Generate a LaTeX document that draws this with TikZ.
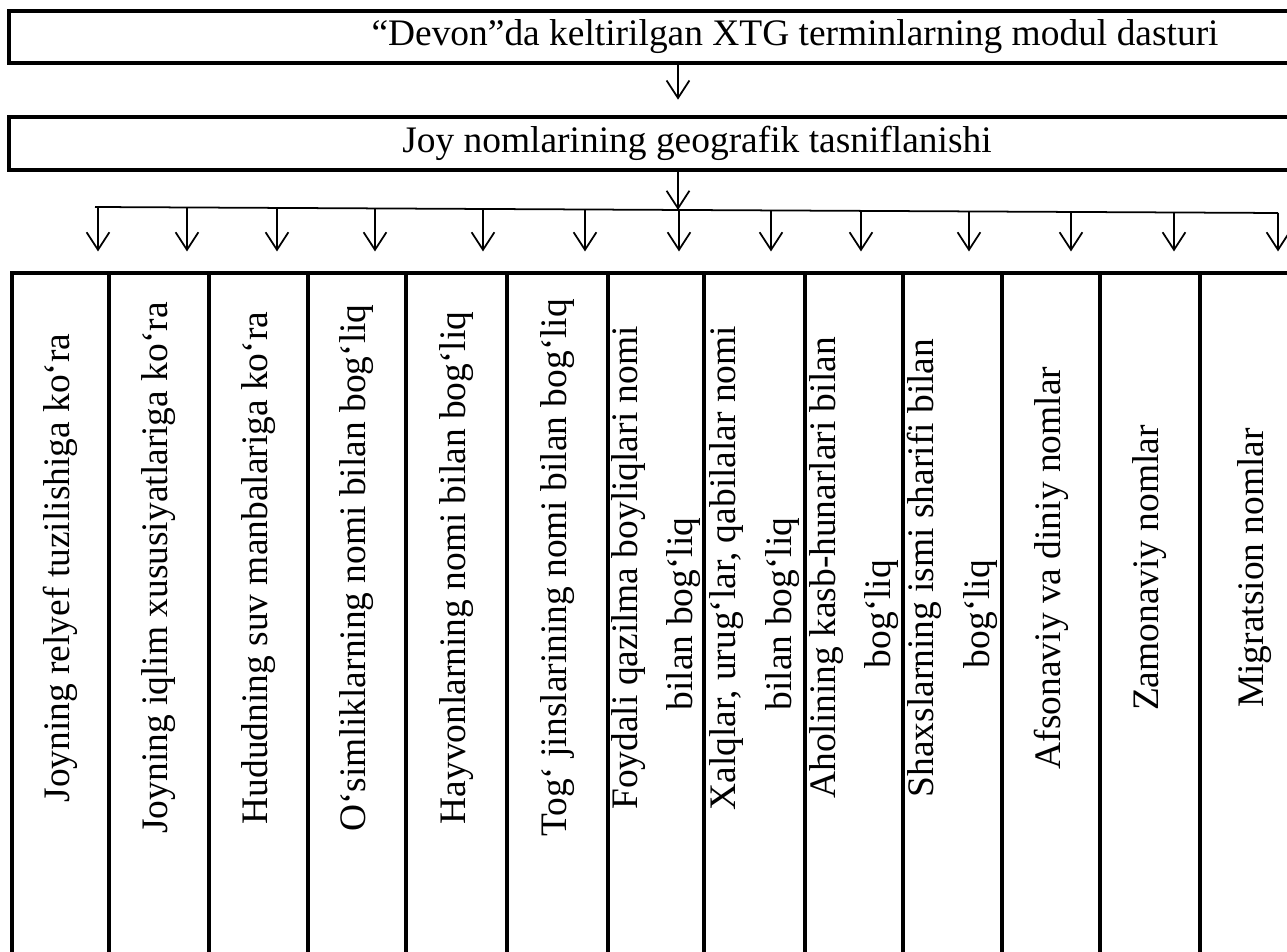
\documentclass[tikz,border=0pt]{standalone}
\usepackage{fontspec}
\setmainfont{Liberation Serif}
\usepackage{tikz}
\usetikzlibrary{positioning,calc,arrows.meta}
\newcommand{\bigtext}{\fontsize{21.3}{31.5}\selectfont}

\begin{document}
\begin{tikzpicture}[x=0.02cm, y=-0.02cm,
  box/.style={draw, line width=1.9pt, inner sep=0pt, font=\bigtext},
  cell/.style={draw, line width=1.9pt, inner sep=0pt, minimum height=18cm},
  arr/.style={line width=1pt, -{Straight Barb[length=10pt, width=13pt, line width=1pt]}},
  lbl/.style={rotate=90, font=\bigtext, align=center, inner sep=0pt}]
\clip (0,0) rectangle (1287,952);
\fill[white] (0,0) rectangle (1287,952);

\node[box, minimum width=31.44cm, minimum height=1.04cm] (dev) at (795,37) {“Devon”da keltirilgan XTG terminlarning modul dasturi};
\node[box, minimum width=27.52cm, minimum height=1.06cm] (geo) at (697,143.5) {Joy nomlarining geografik tasniflanishi};

\coordinate (mid) at (678,0);
\coordinate (hl) at (95,207);
\coordinate (hr) at (1278,213);
\coordinate (lblrow) at (0,568);

\draw[arr] (dev.south -| mid) -- ++(0,35);
\draw[arr] (geo.south -| mid) -- ($(hl)!{(678-95)/1183}!(hr)$);
\draw[line width=1pt] (hl) -- (hr);

% ustunlar
\foreach \i/\xa/\xb in {1/12/109, 2/109/209, 3/209/308, 4/308/406, 5/406/507, 6/507/608, 7/608/704,
  8/704/805, 9/805/903, 10/903/1002, 11/1002/1100, 12/1100/1200, 13/1200/1310}
  \node[cell, minimum width={(\xb-\xa)*0.02cm}] (c\i) at ({(\xa+\xb)/2},723) {};

\foreach \i/\ax in {1/98, 2/187, 3/277, 4/375, 5/483, 6/585, 7/679, 8/771, 9/861, 10/969, 11/1071, 12/1174, 13/1278} {
  \coordinate (a\i) at ($(hl)!{(\ax-95)/1183}!(hr)$);
  \draw[arr, shorten >=0.4cm] (a\i) -- (a\i |- c\i.north);
}

\foreach \i/\t in {1/{Joyning relyef tuzilishiga ko‘ra},
  2/{Joyning iqlim xususiyatlariga ko‘ra},
  3/{Hududning suv manbalariga ko‘ra},
  4/{O‘simliklarning nomi bilan bog‘liq},
  5/{Hayvonlarning nomi bilan bog‘liq},
  6/{Tog‘ jinslarining nomi bilan bog‘liq},
  7/{Foydali qazilma boyliqlari nomi\\bilan bog‘liq\hspace*{1.84cm}},
  8/{Xalqlar, urug‘lar, qabilalar nomi\\bilan bog‘liq\hspace*{1.84cm}},
  9/{Aholining kasb-hunarlari bilan\\bog‘liq\hspace*{1.84cm}},
  10/{Shaxslarning ismi sharifi bilan\\bog‘liq\hspace*{1.84cm}},
  11/{Afsonaviy va diniy nomlar},
  12/{Zamonaviy nomlar},
  13/{Migratsion nomlar}}
  \node[lbl] (t\i) at (c\i |- lblrow) {\t};
\end{tikzpicture}
\end{document}
